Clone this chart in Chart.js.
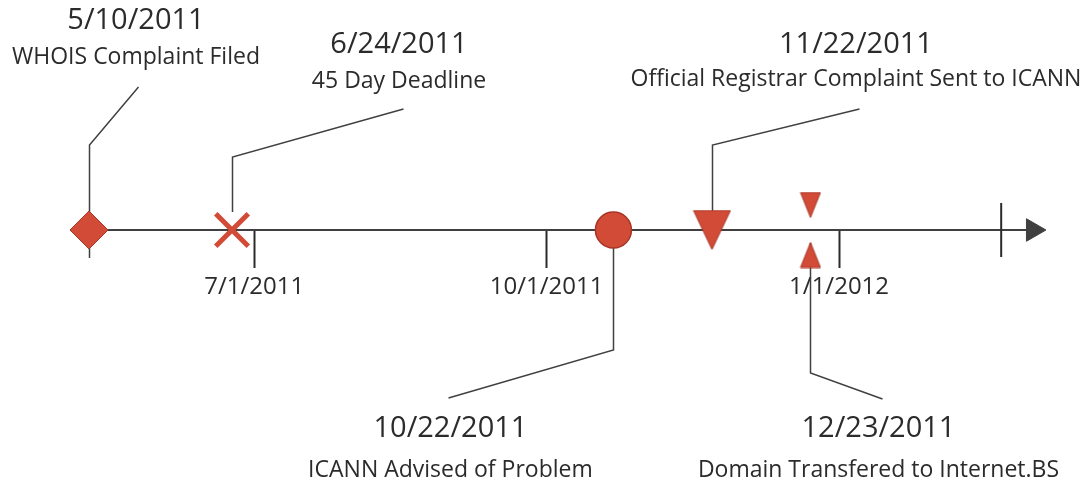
<!DOCTYPE html>
<html>
<head>
<meta charset="utf-8">
<script src="https://cdn.jsdelivr.net/npm/chart.js@4.4.0/dist/chart.umd.min.js"></script>
<style>
  html, body { margin: 0; padding: 0; background: #fff; }
  #wrap { width: 1087px; height: 481px; }
</style>
</head>
<body>
<div id="wrap"><canvas id="timelineChart"></canvas></div>
<script>
// events with a callout
const eventDates = ['2011-05-10', '2011-06-24', '2011-10-22', '2011-11-22', '2011-12-23'];
const eventNotes = [
  'WHOIS Complaint Filed',
  '45 Day Deadline',
  'ICANN Advised of Problem',
  'Official Registrar Complaint Sent to ICANN',
  'Domain Transfered to Internet.BS'
];

// markers on the line (12/23 has two small triangles, one each side)
const markerDates = ['2011-05-10', '2011-06-24', '2011-10-22', '2011-11-22', '2011-12-23', '2011-12-23'];
const markerLanes = [0, 0, 0, 0, 1, -1];

// axis
const tickDates = ['2011-07-01', '2011-10-01', '2012-01-01'];
const axisRange = ['2011-04-12', '2012-03-19'];
const axisLine = ['2011-05-10', '2012-03-02'];
const endMark = ['2012-02-21'];

function toDay(s) {
  const p = s.split('-').map(Number);
  return Date.UTC(p[0], p[1] - 1, p[2]) / 864e5;
}
function fmtDay(day) {
  const d = new Date(Math.round(day) * 864e5);
  return (d.getUTCMonth() + 1) + '/' + d.getUTCDate() + '/' + d.getUTCFullYear();
}

const RED = '#d24b37';
const RED_DARK = '#a83526';
const INK = '#2b2b2b';
const LINE = '#404040';

// isoceles triangles drawn to a small canvas, used as point styles
function triangleImage(w, h, down) {
  const c = document.createElement('canvas');
  c.width = w + 2;
  c.height = h + 2;
  const g = c.getContext('2d');
  g.beginPath();
  if (down) {
    g.moveTo(1, 1); g.lineTo(w + 1, 1); g.lineTo(w / 2 + 1, h + 1);
  } else {
    g.moveTo(w / 2 + 1, 1); g.lineTo(w + 1, h + 1); g.lineTo(1, h + 1);
  }
  g.closePath();
  g.fillStyle = RED;
  g.fill();
  g.lineWidth = 1;
  g.strokeStyle = RED_DARK;
  g.stroke();
  return c;
}

const markerStyles = ['rectRot', 'crossRot', 'circle',
  triangleImage(37, 39, true), triangleImage(20, 25, true), triangleImage(20, 25, false)];

// callout geometry, in px relative to the marker on the axis
const callouts = [
  { from: 28,  elbow: -85, endDx: 49,   endDy: -143, textDx: 47,   dateDy: -209, noteDy: -173 },
  { from: -18, elbow: -73, endDx: 171,  endDy: -121, textDx: 167,  dateDy: -185, noteDy: -149 },
  { from: 0,   elbow: 120, endDx: -165, endDy: 168,  textDx: -163, dateDy: 199,  noteDy: 240 },
  { from: 0,   elbow: -85, endDx: 147,  endDy: -121, textDx: 144,  dateDy: -185, noteDy: -151 },
  { from: 13,  elbow: 143, endDx: 72,   endDy: 169,  textDx: 68,   dateDy: 199,  noteDy: 240 }
];

const calloutPlugin = {
  id: 'callouts',
  beforeDatasetsDraw(chart) {
    const ctx = chart.ctx;
    const xs = chart.scales.x, ys = chart.scales.y;
    const y0 = ys.getPixelForValue(0);
    ctx.save();
    ctx.strokeStyle = LINE;
    ctx.lineWidth = 1.5;
    eventDates.forEach((d, i) => {
      const c = callouts[i];
      const x = Math.round(xs.getPixelForValue(toDay(d))) + 0.5;
      ctx.beginPath();
      ctx.moveTo(x, y0 + c.from);
      ctx.lineTo(x, y0 + c.elbow);
      ctx.lineTo(x + c.endDx, y0 + c.endDy);
      ctx.stroke();
    });
    ctx.restore();
  },
  afterDatasetsDraw(chart) {
    const ctx = chart.ctx;
    const xs = chart.scales.x, ys = chart.scales.y;
    const y0 = ys.getPixelForValue(0);
    ctx.save();
    ctx.fillStyle = INK;
    ctx.textAlign = 'center';
    ctx.textBaseline = 'middle';
    eventDates.forEach((d, i) => {
      const c = callouts[i];
      const x = xs.getPixelForValue(toDay(d)) + c.textDx;
      ctx.font = '29px "Open Sans"';
      ctx.fillText(fmtDay(toDay(d)), x, y0 + c.dateDy);
      ctx.font = '23px "Open Sans"';
      ctx.fillText(eventNotes[i], x, y0 + c.noteDy);
    });
    ctx.restore();
  }
};

const config = {
  type: 'scatter',
  data: {
    datasets: [
      {
        // markers
        data: markerDates.map((d, i) => ({ x: toDay(d), y: markerLanes[i] })),
        pointStyle: markerStyles,
        pointRadius: [19, 23, 18, 20, 12, 12],
        pointRotation: 0,
        pointBackgroundColor: RED,
        pointBorderColor: [RED_DARK, RED, RED_DARK, RED_DARK, RED_DARK, RED_DARK],
        pointBorderWidth: [1, 5, 1.5, 1, 1, 1],
        order: 0
      },
      {
        // end mark across the line
        data: endMark.map(d => ({ x: toDay(d), y: 0 })),
        pointStyle: 'line',
        pointRotation: 90,
        pointRadius: 27,
        pointBorderColor: INK,
        pointBorderWidth: 2,
        order: 1
      },
      {
        // the time line itself with its arrow head
        type: 'line',
        data: axisLine.map(d => ({ x: toDay(d), y: 0 })),
        borderColor: LINE,
        borderWidth: 2,
        pointStyle: 'triangle',
        pointRotation: 90,
        pointRadius: [0, 13],
        pointBackgroundColor: LINE,
        pointBorderColor: LINE,
        pointBorderWidth: 1,
        order: 5
      }
    ]
  },
  options: {
    responsive: true,
    maintainAspectRatio: false,
    animation: false,
    events: [],
    layout: { autoPadding: false, padding: { top: 0, bottom: 21, left: 0, right: 0 } },
    plugins: { legend: { display: false }, tooltip: { enabled: false } },
    scales: {
      x: {
        type: 'linear',
        position: { y: 0 },
        min: toDay(axisRange[0]),
        max: toDay(axisRange[1]),
        afterBuildTicks: (scale) => {
          scale.ticks = tickDates.map(d => ({ value: toDay(d) }));
        },
        border: { display: false },
        grid: {
          drawOnChartArea: false,
          drawTicks: true,
          tickLength: 38,
          tickColor: INK,
          tickWidth: 2
        },
        ticks: {
          autoSkip: false,
          maxRotation: 0,
          padding: 5,
          color: INK,
          font: { family: 'Open Sans', size: 24 },
          callback: (v) => fmtDay(v)
        }
      },
      y: {
        display: false,
        min: -9.2,
        max: 9.2
      }
    }
  },
  plugins: [calloutPlugin]
};

new Chart(document.getElementById('timelineChart'), config);
</script>
</body>
</html>
